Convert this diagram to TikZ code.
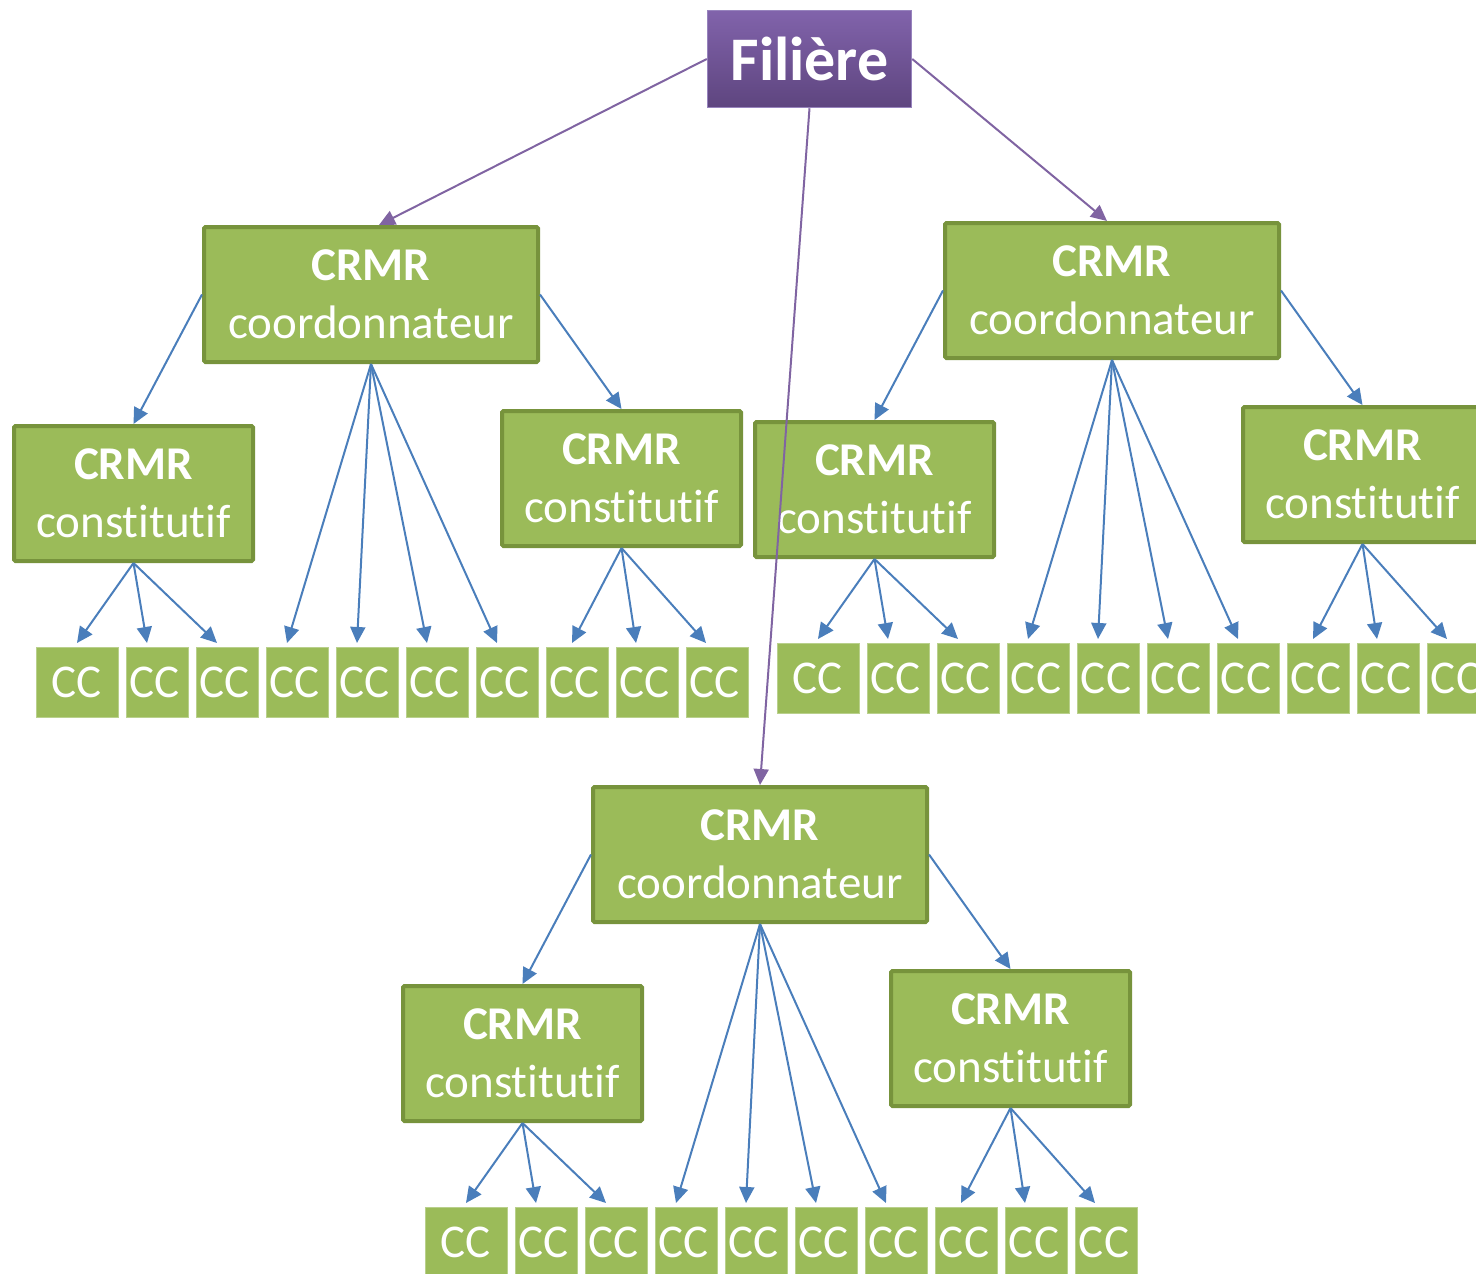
\documentclass[tikz,border=0pt]{standalone}
\usepackage{fontspec}
\setmainfont{Carlito}[Ligatures={NoCommon}]
\usepackage{tikz}
\usetikzlibrary{arrows.meta,positioning}
\definecolor{leaf}{HTML}{9BBB59}
\definecolor{leafedge}{HTML}{77933C}
\definecolor{ccedge}{HTML}{B9D08C}
\definecolor{linkblue}{HTML}{4A7EBB}
\definecolor{rootline}{HTML}{8064A2}
\definecolor{roottop}{HTML}{8163AB}
\definecolor{rootbot}{HTML}{5E457F}
\definecolor{rootedge}{HTML}{9783BD}
\tikzset{
  rootbox/.style={draw=rootedge, line width=1.5pt, top color=roottop, bottom color=rootbot,
    text=white, minimum width=204pt, minimum height=97pt, inner sep=0pt, outer sep=0.75pt,
    font=\fontsize{62}{70}\selectfont\bfseries},
  coordbox/.style={draw=leafedge, line width=4pt, fill=leaf, text=white, rounded corners=1.5pt,
    minimum width=334pt, minimum height=135pt, inner sep=0pt, outer sep=2pt, align=center,
    font=\fontsize{47}{58}\selectfont},
  constbox/.style={coordbox, minimum width=239pt},
  ccbox/.style={fill=leaf, draw=ccedge, line width=0.8pt, text=white, minimum width=62pt,
    minimum height=70pt, inner sep=0pt, outer sep=0pt, font=\fontsize{47}{58}\selectfont},
  link/.style={draw=linkblue, line width=2pt, -{Triangle[length=16pt,width=15pt]}},
  rootlink/.style={draw=rootline, line width=2pt, -{Triangle[length=16pt,width=15pt]}}
}

\begin{document}
\begin{tikzpicture}[x=1pt,y=-1pt]
  \useasboundingbox (0,0) rectangle (1476,1274);
  \node[rootbox] (F) at (809.5,59) {Filière};

  % three identical branches
  \foreach \tr/\dx/\dy in {L/0/0, R/741/-4, B/389/560}{
    \begin{scope}[shift={(\dx,\dy)}]
      \node[coordbox] (\tr) at (371,294.5) {\textbf{CRMR}\\coordonnateur};
      \node[constbox] (\tr1) at (133.5,493.5) {\textbf{CRMR}\\constitutif};
      \node[constbox] (\tr2) at (621.5,478.5) {\textbf{CRMR}\\constitutif};
      \node[ccbox, minimum width=82pt] (\tr cc0) at (77,682) {CC};
      \foreach \i in {1,...,9}
        \node[ccbox] (\tr cc\i) at (87+70*\i,682) {CC\hspace*{4pt}};

      \draw[link] (\tr.west) -- (\tr1.north);
      \draw[link] (\tr.east) -- (\tr2.north);
      \foreach \j in {3,...,6}
        \draw[link] (\tr.south) -- ([xshift=-10pt,yshift=4pt]\tr cc\j.north);
      \draw[link] (\tr1.south) -- ([yshift=4pt]\tr cc0.north);
      \foreach \j in {1,2}
        \draw[link] (\tr1.south) -- ([xshift=-10pt,yshift=4pt]\tr cc\j.north);
      \draw[link] (\tr2.south) -- ([xshift=-5pt,yshift=4pt]\tr cc7.north);
      \foreach \j in {8,9}
        \draw[link] (\tr2.south) -- ([xshift=-11pt,yshift=4pt]\tr cc\j.north);
    \end{scope}
  }

  \draw[rootlink] (F.west) -- ([xshift=8pt]L.north);
  \draw[rootlink] (F.east) -- ([xshift=-5pt]R.north);
  \draw[rootlink] (F.south) -- (B.north);
\end{tikzpicture}
\end{document}
